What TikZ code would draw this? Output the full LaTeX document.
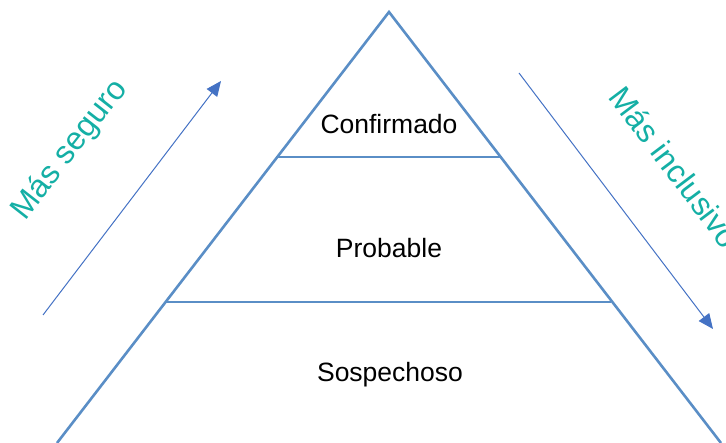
\documentclass[tikz,border=0pt]{standalone}
\usepackage{fontspec}
\setmainfont{Liberation Sans}
\usepackage{tikz}
\usetikzlibrary{arrows.meta,positioning,calc}
\definecolor{PyBlue} {HTML}{5A8EC6}
\definecolor{ArBlue} {HTML}{4472C4}
\definecolor{TxTeal} {HTML}{14AFA5}
\begin{document}
\begin{tikzpicture}[x=1pt,y=-1pt,
    edge/.style={draw=PyBlue,line width=2.6pt},
    dir/.style={-{Triangle[length=15pt,width=13pt]},ArBlue,line width=1pt},
    lvl/.style={font=\fontsize{26.5}{30}\selectfont,text=black},
    side/.style={font=\fontsize{32}{38}\selectfont,text=TxTeal}
  ]
    \useasboundingbox (0,0) rectangle (726,443);
    \clip (0,0) rectangle (726,443);
    % pyramid
    \coordinate (top) at (389,12);
    \coordinate (bl)  at (57,443);
    \coordinate (br)  at (721,443);
    \coordinate (c1l) at (278,157);
    \coordinate (c1r) at (500,157);
    \coordinate (c2l) at (166,302);
    \coordinate (c2r) at (611,302);
    \draw[edge](bl)--(top)--(br);
    \draw[edge](c1l)--(c1r);
    \draw[edge](c2l)--(c2r);
    \node[lvl](conf) at (389,124) {Confirmado};
    \node[lvl](prob) at (389,248) {Probable};
    \node[lvl](sosp) at (390,375) {Sospechoso};
    % side arrows
    \coordinate (s0) at (43,315);
    \coordinate (s1) at (221,81);
    \coordinate (i0) at (519,73);
    \coordinate (i1) at (713,329);
    \draw[dir](s0)--(s1);
    \draw[dir](i0)--(i1);
    \node[side,rotate=52](seg) at (70,150) {Más seguro};
    \node[side,rotate=-53](inc) at (675,167) {Más inclusivo};
  \end{tikzpicture}
\end{document}
